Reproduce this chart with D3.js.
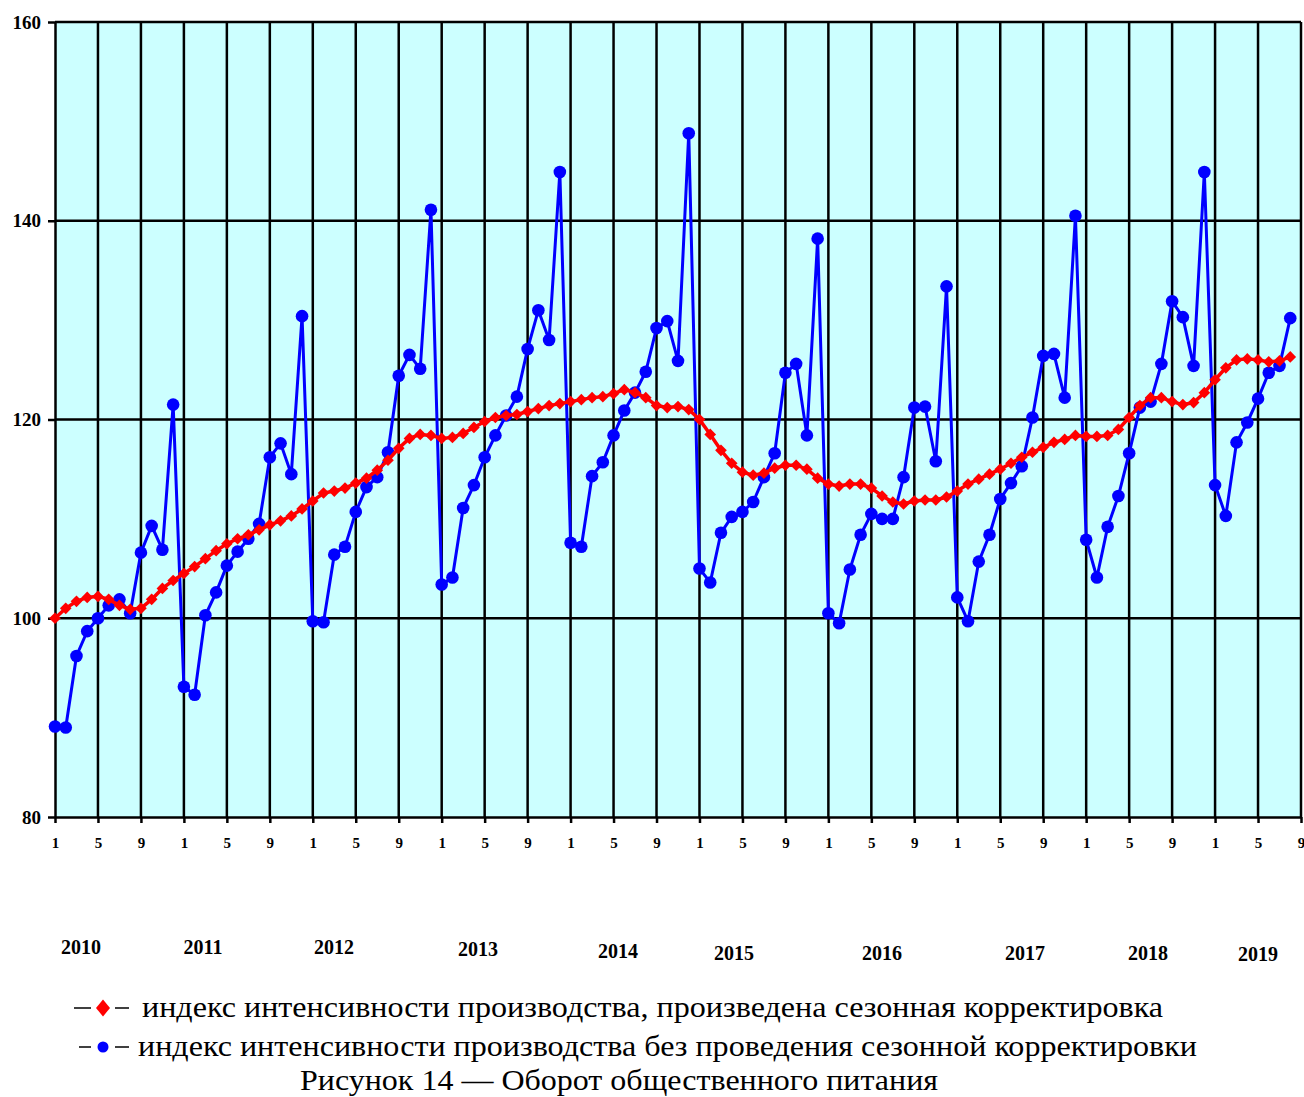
<!DOCTYPE html>
<html>
<head>
<meta charset="utf-8">
<script src="https://cdn.jsdelivr.net/npm/d3@7"></script>
<style>
  body { margin: 0; background: #ffffff; }
  svg text { font-family: "Liberation Serif", "Times New Roman", serif; }
</style>
</head>
<body>
<svg id="chart" width="1304" height="1097"></svg>
<script>
// Monthly data, Jan 2010 - Aug 2019
var years = ['2010', '2011', '2012', '2013', '2014', '2015', '2016', '2017', '2018', '2019'];
var monthTicks = ['1', '5', '9'];
var yTicks = [80, 100, 120, 140, 160];

// index with seasonal adjustment (red diamonds)
var adjusted = [
    100.0, 101.0, 101.7, 102.1, 102.2, 101.9, 101.3, 100.9, 101.0, 101.9, 103.0, 103.8,
    104.5, 105.2, 106.0, 106.8, 107.5, 108.0, 108.4, 108.9, 109.4, 109.8, 110.3, 111.0,
    111.8, 112.6, 112.8, 113.1, 113.6, 114.1, 114.9, 115.9, 117.1, 118.1, 118.5, 118.4,
    118.1, 118.2, 118.6, 119.2, 119.8, 120.2, 120.4, 120.5, 120.8, 121.1, 121.4, 121.6,
    121.8, 122.0, 122.2, 122.3, 122.6, 123.0, 122.7, 122.2, 121.4, 121.2, 121.3, 121.0,
    120.0, 118.5, 116.9, 115.6, 114.7, 114.4, 114.6, 115.1, 115.4, 115.4, 115.0, 114.1,
    113.5, 113.3, 113.5, 113.5, 113.1, 112.3, 111.7, 111.5, 111.8, 111.9, 111.9, 112.2,
    112.8, 113.5, 114.0, 114.5, 115.0, 115.6, 116.2, 116.7, 117.2, 117.7, 118.0, 118.4,
    118.3, 118.3, 118.4, 119.0, 120.2, 121.4, 122.2, 122.2, 121.8, 121.5, 121.7, 122.7,
    124.0, 125.2, 126.0, 126.1, 126.0, 125.8, 125.9, 126.3
];

// index without seasonal adjustment (blue circles)
var unadjusted = [
    89.1, 89.0, 96.2, 98.7, 100.0, 101.3, 101.9, 100.5, 106.6, 109.3, 106.9, 121.5,
    93.1, 92.3, 100.3, 102.6, 105.3, 106.7, 108.0, 109.5, 116.2, 117.6, 114.5, 130.4,
    99.7, 99.6, 106.4, 107.2, 110.7, 113.2, 114.2, 116.7, 124.4, 126.5, 125.1, 141.1,
    103.4, 104.1, 111.1, 113.4, 116.2, 118.4, 120.4, 122.3, 127.1, 131.0, 128.0, 144.9,
    107.6, 107.2, 114.3, 115.7, 118.4, 120.9, 122.7, 124.8, 129.2, 129.9, 125.9, 148.8,
    105.0, 103.6, 108.6, 110.2, 110.7, 111.7, 114.2, 116.6, 124.7, 125.6, 118.4, 138.2,
    100.5, 99.5, 104.9, 108.4, 110.5, 110.0, 110.0, 114.2, 121.2, 121.3, 115.8, 133.4,
    102.1, 99.7, 105.7, 108.4, 112.0, 113.6, 115.3, 120.2, 126.4, 126.6, 122.2, 140.5,
    107.9, 104.1, 109.2, 112.3, 116.6, 121.2, 121.8, 125.6, 131.9, 130.3, 125.4, 144.9,
    113.4, 110.3, 117.7, 119.7, 122.1, 124.7, 125.4, 130.2
];

var legendLabels = [
    'индекс интенсивности производства, произведена сезонная корректировка',
    'индекс интенсивности производства без проведения сезонной корректировки'
];
var caption = 'Рисунок 14 — Оборот общественного питания';

// layout
var plotLeft = 55, plotRight = 1301, plotTop = 22, plotBottom = 817;
var nMonths = 116; // axis runs to Sep 2019
var yearLabelX = [81, 203, 334, 478, 618, 734, 882, 1025, 1148, 1258];
var yearLabelY = [954, 954, 954, 956, 958, 960, 960, 960, 960, 961];

var svg = d3.select('#chart');

var x = d3.scaleLinear().domain([0, nMonths]).range([plotLeft, plotRight]);
var y = d3.scaleLinear().domain([80, 160]).range([plotBottom, plotTop]);
var tickIdx = d3.range(0, nMonths + 1, 4);

// plot background
svg.append('rect')
    .attr('x', x(0)).attr('y', y(160))
    .attr('width', x(nMonths) - x(0)).attr('height', y(80) - y(160))
    .attr('fill', '#ccffff');

// grid
svg.append('g').selectAll('line')
    .data(tickIdx.slice(1))
    .enter().append('line')
    .attr('x1', d => x(d)).attr('x2', d => x(d))
    .attr('y1', y(160)).attr('y2', y(80))
    .attr('stroke', '#000').attr('stroke-width', 2.5);

svg.append('g').selectAll('line')
    .data(yTicks.slice(1))
    .enter().append('line')
    .attr('x1', x(0)).attr('x2', x(nMonths))
    .attr('y1', d => y(d)).attr('y2', d => y(d))
    .attr('stroke', '#000').attr('stroke-width', 2.5);

// axes
var yAxis = svg.append('g')
    .attr('transform', 'translate(' + plotLeft + ',0)')
    .call(d3.axisLeft(y).tickValues(yTicks).tickSize(7).tickPadding(7).tickSizeOuter(0));

var xAxis = svg.append('g')
    .attr('transform', 'translate(0,' + plotBottom + ')')
    .call(d3.axisBottom(x).tickValues(tickIdx).tickSize(6).tickPadding(14).tickSizeOuter(0)
        .tickFormat(function (d) { return monthTicks[(d / 4) % 3]; }));

[yAxis, xAxis].forEach(function (ax) {
    ax.selectAll('path, line').attr('stroke', '#000').attr('stroke-width', 2.5);
    ax.selectAll('text')
        .attr('fill', '#000')
        .style('font-family', '"Liberation Serif", serif')
        .style('font-weight', 'bold');
});
yAxis.selectAll('text').style('font-size', '19px');
xAxis.selectAll('text').style('font-size', '15px');

// year labels
svg.append('g').selectAll('text')
    .data(years)
    .enter().append('text')
    .attr('x', (d, i) => yearLabelX[i])
    .attr('y', (d, i) => yearLabelY[i])
    .attr('text-anchor', 'middle')
    .style('font-size', '20px')
    .style('font-weight', 'bold')
    .text(d => d);

// series
var line = d3.line().x((d, i) => x(i)).y(d => y(d));

svg.append('path')
    .datum(unadjusted)
    .attr('d', line)
    .attr('fill', 'none')
    .attr('stroke', '#0000ff')
    .attr('stroke-width', 3);

svg.append('g').selectAll('circle')
    .data(unadjusted)
    .enter().append('circle')
    .attr('cx', (d, i) => x(i))
    .attr('cy', d => y(d))
    .attr('r', 6.3)
    .attr('fill', '#0000ff');

svg.append('path')
    .datum(adjusted)
    .attr('d', line)
    .attr('fill', 'none')
    .attr('stroke', '#ff0000')
    .attr('stroke-width', 3.5);

var diamond = d3.symbol().type(d3.symbolSquare).size(68);
svg.append('g').selectAll('path')
    .data(adjusted)
    .enter().append('path')
    .attr('d', diamond)
    .attr('transform', (d, i) => 'translate(' + x(i) + ',' + y(d) + ') rotate(45)')
    .attr('fill', '#ff0000');

// legend
var legendRows = [
    { x: 74, mid: 103, textX: 142, textEnd: 1163, base: 1017, lineY: 1008, color: '#ff0000', shape: 'diamond' },
    { x: 79, mid: 103, textX: 138, textEnd: 1197, base: 1056, lineY: 1047, color: '#0000ff', shape: 'circle' }
];
legendRows.forEach(function (row, i) {
    var g = svg.append('g');
    g.append('line').attr('x1', row.x).attr('x2', row.mid - 12)
        .attr('y1', row.lineY).attr('y2', row.lineY)
        .attr('stroke', '#000').attr('stroke-width', 1.5);
    g.append('line').attr('x1', row.mid + 12).attr('x2', row.mid + 26)
        .attr('y1', row.lineY).attr('y2', row.lineY)
        .attr('stroke', '#000').attr('stroke-width', 1.5);
    if (row.shape === 'diamond') {
        g.append('path')
            .attr('d', 'M0,-8.5L7,0L0,8.5L-7,0Z')
            .attr('transform', 'translate(' + row.mid + ',' + row.lineY + ')')
            .attr('fill', row.color);
    } else {
        g.append('circle').attr('cx', row.mid).attr('cy', row.lineY).attr('r', 5.5)
            .attr('fill', row.color);
    }
    g.append('text')
        .attr('x', row.textX)
        .attr('y', row.base)
        .attr('textLength', row.textEnd - row.textX)
        .attr('lengthAdjust', 'spacingAndGlyphs')
        .style('font-size', '30px')
        .text(legendLabels[i]);
});

svg.append('text')
    .attr('x', 300)
    .attr('y', 1090)
    .attr('textLength', 638)
    .attr('lengthAdjust', 'spacingAndGlyphs')
    .style('font-size', '30px')
    .text(caption);
</script>
</body>
</html>
